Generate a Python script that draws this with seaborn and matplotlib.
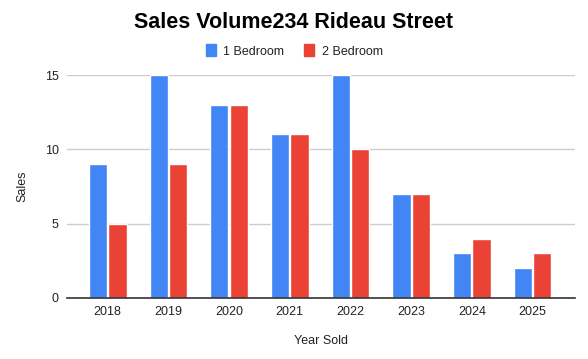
import matplotlib
matplotlib.use("Agg")
import matplotlib.pyplot as plt
import seaborn as sns
import pandas as pd
from matplotlib.patches import Patch

years = ["2018", "2019", "2020", "2021", "2022", "2023", "2024", "2025"]
one_bed = [9, 15, 13, 11, 15, 7, 3, 2]
two_bed = [5, 9, 13, 11, 10, 7, 4, 3]

df = pd.DataFrame({
    "Year Sold": years * 2,
    "Sales": one_bed + two_bed,
    "Type": ["1 Bedroom"] * len(years) + ["2 Bedroom"] * len(years),
})

sns.set_style("white")
plt.rcParams["font.family"] = ["Liberation Sans", "DejaVu Sans"]

fig = plt.figure(figsize=(5.88, 3.59), dpi=100)
ax = fig.add_axes([67 / 588, 1 - 298 / 359, (575 - 67) / 588, (298 - 75) / 359])

sns.barplot(data=df, x="Year Sold", y="Sales", hue="Type",
            palette=["#4285F4", "#EA4335"], width=0.64, gap=0.06,
            saturation=1, ax=ax, zorder=3, legend=False)

ax.set_ylim(0, 15)
ax.set_xlim(-0.67, 7.7)
ax.set_yticks([0, 5, 10, 15])
ax.yaxis.grid(True, color="#cccccc", linewidth=1, zorder=0)
ax.set_axisbelow(True)
for s in ["top", "right", "left"]:
    ax.spines[s].set_visible(False)
ax.spines["bottom"].set_color("#333333")
ax.spines["bottom"].set_linewidth(1.2)
ax.spines["bottom"].set_zorder(4)
ax.tick_params(axis="both", length=0, labelsize=9, colors="#222222", pad=6)
ax.set_xlabel("Year Sold", fontsize=9, color="#222222", labelpad=12)
ax.set_ylabel("Sales", fontsize=9, color="#222222", labelpad=12)
for t in ax.patches:
    t.set_clip_on(False)

fig.text(0.5, 1 - 23 / 359, "Sales Volume234 Rideau Street", ha="center", va="center",
         fontsize=15.5, fontweight="bold", color="#000000")

handles = [Patch(color="#4285F4", label="1 Bedroom"), Patch(color="#EA4335", label="2 Bedroom")]
fig.legend(handles=handles, loc="center", bbox_to_anchor=(0.5, 1 - 51 / 359), ncol=2,
           frameon=False, fontsize=9, handlelength=0.8, handleheight=1.1,
           handletextpad=0.6, columnspacing=1.6, labelcolor="#222222")

fig.savefig("out.png", dpi=100)
